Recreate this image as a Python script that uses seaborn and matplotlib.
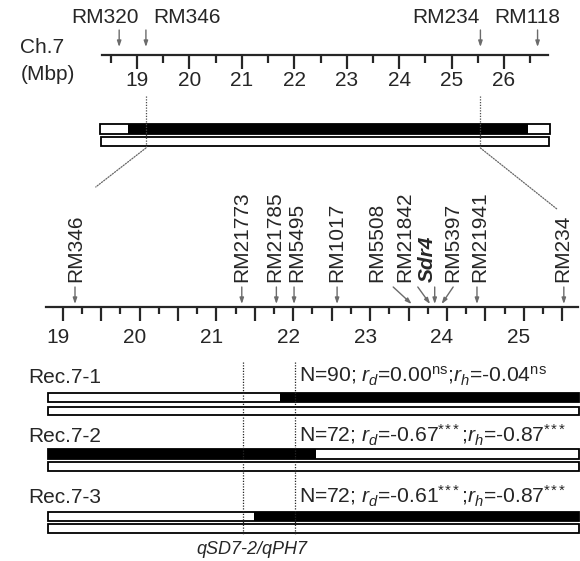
import numpy as np
import pandas as pd
import matplotlib
matplotlib.use("Agg")
import matplotlib.pyplot as plt
import seaborn as sns
from matplotlib.patches import ConnectionPatch
from matplotlib.ticker import FuncFormatter, FixedLocator
from matplotlib.transforms import ScaledTranslation

# ---------------- data ----------------
# overview of chromosome 7 (Mbp)
top_markers = ["RM320", "RM346", "RM234", "RM118"]
top_marker_mbp = [18.66, 19.17, 25.55, 26.64]
top_label_mbp = [18.39, 19.95, 24.89, 26.44]
top_major_ticks = [19, 20, 21, 22, 23, 24, 25, 26]
chrom_span = [18.29, 26.88]
chrom_introgression = [18.83, 26.46]
zoom_span = [19.17, 25.55]

# fine map (Mbp)
fine_markers = ["RM346", "RM21773", "RM21785", "RM5495", "RM1017", "RM5508",
                "RM21842", "Sdr4", "RM5397", "RM21941", "RM234"]
fine_tip_mbp = [19.16, 21.33, 21.78, 22.01, 22.57, 23.54, 23.78, 23.84, 23.93, 24.39, 25.52]
fine_base_mbp = [19.16, 21.33, 21.78, 22.01, 22.57, 23.30, 23.62, 23.84, 24.08, 24.39, 25.52]
fine_label_mbp = [19.17, 21.33, 21.76, 22.05, 22.57, 23.09, 23.45, 23.74, 24.07, 24.43, 25.51]
fine_ticks = [19, 20, 21, 22, 23, 24, 25]

# recombinants
rec_names = ["Rec.7-1", "Rec.7-2", "Rec.7-3"]
rec_span = [18.81, 25.72]
rec_breakpoint = [21.83, 22.30, 21.49]
rec_left_black = [False, True, False]
rec_N = [90, 72, 72]
rec_rd = ["0.00", "-0.67", "-0.61"]
rec_rd_sig = ["ns", "***", "***"]
rec_rh = ["-0.04", "-0.87", "-0.87"]
rec_rh_sig = ["ns", "***", "***"]
qtl_interval = [21.35, 22.02]
qtl_name = "qSD7-2/qPH7"

# ---------------- style ----------------
sns.set_style("white")
plt.rcParams["font.family"] = ["Liberation Sans", "DejaVu Sans"]
plt.rcParams["mathtext.fontset"] = "custom"
plt.rcParams["mathtext.rm"] = "Liberation Sans"
plt.rcParams["mathtext.it"] = "Liberation Sans:italic"
plt.rcParams["mathtext.bf"] = "Liberation Sans:bold"
FS = 15
GRAY = "0.42"

W, H = 580, 561
fig = plt.figure(figsize=(W / 100, H / 100), dpi=100)

# both axes cover the full figure; y is in pixel rows (inverted), x in Mbp
ax_top = fig.add_axes([0, 0, 1, 1])
ax_bot = fig.add_axes([0, 0, 1, 1])
for ax in (ax_top, ax_bot):
    ax.set_ylim(H, 0)
    ax.patch.set_alpha(0)
    for s in ("left", "right", "top"):
        ax.spines[s].set_visible(False)
    ax.set_yticks([])

# x scales: top 52.43 px/Mbp with 19 at px 137; bottom 76.86 px/Mbp with 19 at px 62.7
ax_top.set_xlim(19 - 137 / 52.43, 19 + (W - 137) / 52.43)
ax_bot.set_xlim(19 - 62.7 / 76.86, 19 + (W - 62.7) / 76.86)

# ---------- top overview axis ----------
TOP_AXIS_Y = 55
ax_top.spines["bottom"].set_position(("data", TOP_AXIS_Y))
ax_top.spines["bottom"].set_bounds(chrom_span[0] + 0.04, chrom_span[1] - 0.04)
ax_top.spines["bottom"].set_linewidth(1.6)
ax_top.xaxis.set_major_locator(FixedLocator(top_major_ticks))
ax_top.xaxis.set_minor_locator(FixedLocator([t + 0.5 for t in [18] + top_major_ticks]))
ax_top.xaxis.set_major_formatter(FuncFormatter(lambda v, p: f"{v:.0f}"))
ax_top.tick_params(axis="x", which="major", direction="out", length=10, width=1.6,
                   labelsize=FS, pad=1.5, bottom=True)
ax_top.tick_params(axis="x", which="minor", direction="out", length=6, width=1.6, bottom=True)

ax_top.text(0.035, 47, "Ch.7", transform=ax_top.get_yaxis_transform(), fontsize=FS,
            ha="left", va="center")
ax_top.text(0.035, 74, "(Mbp)", transform=ax_top.get_yaxis_transform(), fontsize=FS,
            ha="left", va="center")

for name, xm, xl in zip(top_markers, top_marker_mbp, top_label_mbp):
    ax_top.text(xl, 17, name, fontsize=FS, ha="center", va="center")
    ax_top.annotate("", xy=(xm, 47), xytext=(xm, 30),
                    arrowprops=dict(arrowstyle="-|>,head_length=0.35,head_width=0.12",
                                    color=GRAY, lw=1.0, shrinkA=0, shrinkB=0))

# chromosome bars
ax_top.barh(129, chrom_span[1] - chrom_span[0], left=chrom_span[0], height=10,
            color="white", edgecolor="black", lw=1.3)
ax_top.barh(129, chrom_introgression[1] - chrom_introgression[0], left=chrom_introgression[0],
            height=10, color="black", edgecolor="black", lw=0)
ax_top.barh(141.5, chrom_span[1] - chrom_span[0] - 0.04, left=chrom_span[0] + 0.02, height=9,
            color="white", edgecolor="black", lw=1.3)

# zoom guides
for xz in zoom_span:
    ax_top.plot([xz, xz], [96, 148], color="0.3", lw=0.9, ls=(0, (1, 1.2)))
for xa, xb, yb in [(zoom_span[0], 19.43, 187), (zoom_span[1], 25.43, 209)]:
    con = ConnectionPatch(xyA=(xa, 148), coordsA=ax_top.transData,
                          xyB=(xb, yb), coordsB=ax_bot.transData,
                          color="0.4", lw=0.9, ls=(0, (1, 1.2)))
    fig.add_artist(con)

# ---------- fine map axis ----------
BOT_AXIS_Y = 307
ax_bot.spines["bottom"].set_position(("data", BOT_AXIS_Y))
ax_bot.spines["bottom"].set_bounds(18.78, 25.70)
ax_bot.spines["bottom"].set_linewidth(1.6)
ax_bot.xaxis.set_major_locator(FixedLocator(np.arange(19, 25.51, 0.5)))
ax_bot.xaxis.set_minor_locator(FixedLocator(np.arange(19.25, 25.6, 0.5)))
ax_bot.xaxis.set_major_formatter(
    FuncFormatter(lambda v, p: f"{v:.0f}" if abs(v - round(v)) < 1e-6 else ""))
ax_bot.tick_params(axis="x", which="major", direction="out", length=10, width=1.6,
                   labelsize=FS, pad=5, bottom=True)
ax_bot.tick_params(axis="x", which="minor", direction="out", length=5, width=1.6, bottom=True)
for lab in ax_bot.get_xticklabels():
    lab.set_transform(lab.get_transform() + ScaledTranslation(-5 / 100, 0, fig.dpi_scale_trans))

for name, tip, base, xl in zip(fine_markers, fine_tip_mbp, fine_base_mbp, fine_label_mbp):
    kw = dict(fontsize=FS, rotation=90, ha="center", va="bottom")
    if name == "Sdr4":
        kw.update(fontweight="bold", fontstyle="italic")
    ax_bot.text(xl, 282, name, **kw)
    ax_bot.annotate("", xy=(tip, 304), xytext=(base, 287),
                    arrowprops=dict(arrowstyle="-|>,head_length=0.35,head_width=0.12",
                                    color=GRAY, lw=1.0, shrinkA=0, shrinkB=0))

# ---------- recombinants ----------
row_label_y = [377, 436, 497]
bar1_y = [397.5, 454, 516.5]
bar2_y = [411, 466.5, 528.5]


def sup(sig):
    return r"$^{\mathrm{ns}}$" if sig == "ns" else r"$^{*\!*\!*}$"


for i, name in enumerate(rec_names):
    ax_bot.text(18.55, row_label_y[i], name, fontsize=FS, ha="left", va="center")
    full = rec_span[1] - rec_span[0]
    ax_bot.barh(bar1_y[i], full, left=rec_span[0], height=9.5,
                color="white", edgecolor="black", lw=1.3, zorder=3)
    if rec_left_black[i]:
        l, w = rec_span[0], rec_breakpoint[i] - rec_span[0]
    else:
        l, w = rec_breakpoint[i], rec_span[1] - rec_breakpoint[i]
    ax_bot.barh(bar1_y[i], w, left=l, height=9.5, color="black", lw=0, zorder=3)
    ax_bot.barh(bar2_y[i], full, left=rec_span[0], height=8.5,
                color="white", edgecolor="black", lw=1.3, zorder=3)
    txt = (f"N={rec_N[i]}; " + r"$r_d$" + f"={rec_rd[i]}" + sup(rec_rd_sig[i])
           + ";" + r"$r_h$" + f"={rec_rh[i]}" + sup(rec_rh_sig[i]))
    ax_bot.text(22.08, row_label_y[i] - 1, txt, fontsize=15.2, ha="left", va="center")

for xq in qtl_interval:
    ax_bot.plot([xq, xq], [362, 534], color="0.15", lw=0.9, ls=(0, (1, 1.2)), zorder=4)
ax_bot.text(21.46, 550, qtl_name, fontsize=13, fontstyle="italic", ha="center", va="center")

fig.savefig("out.png", dpi=100)
